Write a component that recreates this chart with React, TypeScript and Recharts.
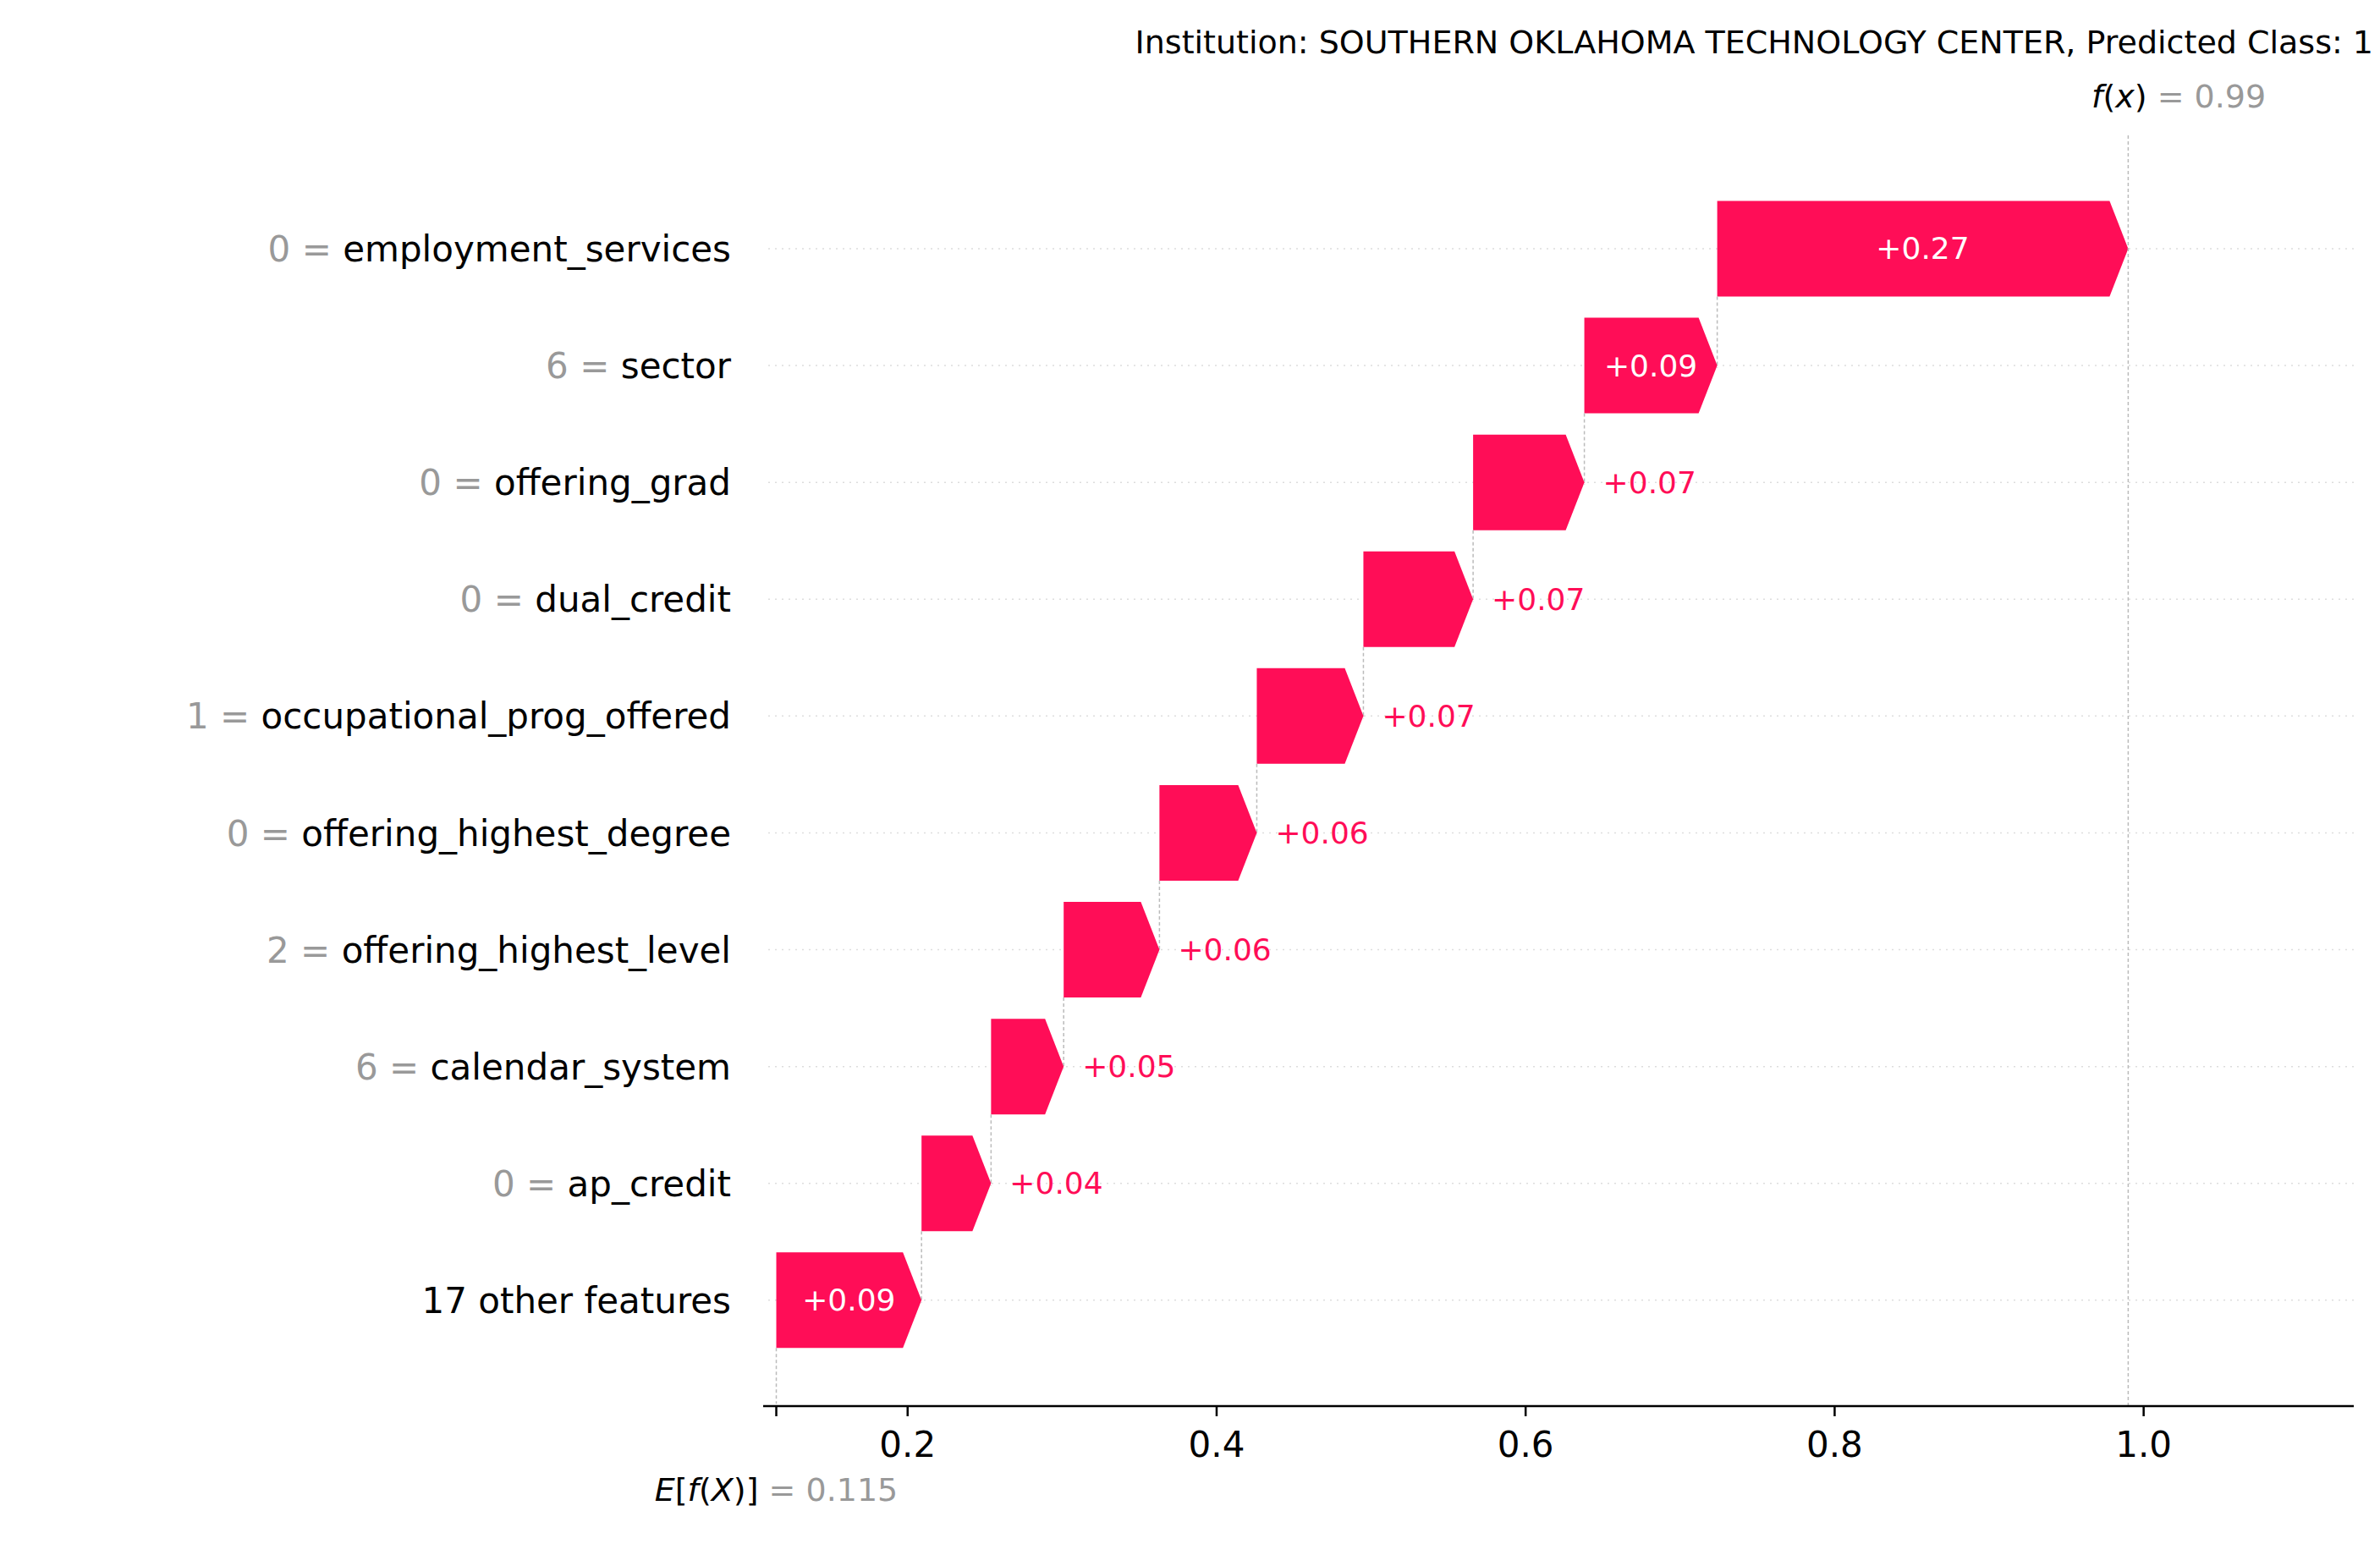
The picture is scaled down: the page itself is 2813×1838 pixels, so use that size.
import React from 'react';
import { ComposedChart, Bar, XAxis, YAxis, ReferenceLine } from 'recharts';

const features = ['employment_services', 'sector', 'offering_grad', 'dual_credit', 'occupational_prog_offered', 'offering_highest_degree', 'offering_highest_level', 'calendar_system', 'ap_credit', '17 other features'];
const featureValues = ['0', '6', '0', '0', '1', '0', '2', '6', '0', ''];
const shapValues = [0.266, 0.086, 0.072, 0.071, 0.069, 0.063, 0.062, 0.047, 0.045, 0.094];
const labels = ['+0.27', '+0.09', '+0.07', '+0.07', '+0.07', '+0.06', '+0.06', '+0.05', '+0.04', '+0.09'];
const baseValue = 0.115;
const fx = 0.99;
const xTicks = [0.115, 0.2, 0.4, 0.6, 0.8, 1.0];

const RED = '#ff0d57';
const FONT = 'DejaVu Sans, sans-serif';

// cumulative starts, bottom row (other features) first from base value
const starts: number[] = new Array(features.length);
let acc = baseValue;
for (let i = features.length - 1; i >= 0; i--) {
  starts[i] = acc;
  acc += shapValues[i];
}
const data = features.map((f, i) => ({ name: f, base: starts[i], value: shapValues[i], label: labels[i], idx: i }));

const BAND = 141;
const PLOT_L = 902;
const PLOT_R = 2782;

const ArrowBar = (props: any) => {
  const { x, y, width, height, payload } = props;
  const h = height;
  const head = Math.min(22, width);
  const pts = `${x},${y} ${x + width - head},${y} ${x + width},${y + h / 2} ${x + width - head},${y + h} ${x},${y + h}`;
  const inside = width > 140 || payload.idx === 1 || payload.idx === 9;
  const last = payload.idx === features.length - 1;
  const lineEnd = last ? y + h + 66 : y + h + (BAND - h) + h / 2;
  return (
    <g>
      <line x1={PLOT_L - 10} x2={PLOT_R} y1={y + h / 2} y2={y + h / 2} stroke="#ddd" strokeWidth={1.5} strokeDasharray="2 6" />
      <polygon points={pts} fill={RED} />
      <line x1={x} x2={x} y1={y + h} y2={lineEnd} stroke="#bbb" strokeWidth={1.5} strokeDasharray="4 3" />
      {inside ? (
        <text x={x + width / 2} y={y + h / 2} textAnchor="middle" dominantBaseline="central" fill="#fff" fontSize={36} fontFamily={FONT}>{payload.label}</text>
      ) : (
        <text x={x + width + 22} y={y + h / 2} textAnchor="start" dominantBaseline="central" fill={RED} fontSize={36} fontFamily={FONT}>{payload.label}</text>
      )}
    </g>
  );
};

const YTick = (props: any) => {
  const { x, y, payload } = props;
  const i = features.indexOf(payload.value);
  const v = featureValues[i];
  return (
    <text x={x} y={y} textAnchor="end" dominantBaseline="central" fontSize={42} fontFamily={FONT}>
      {v !== '' && <tspan fill="#999">{v} = </tspan>}
      <tspan fill="#000">{payload.value}</tspan>
    </text>
  );
};

const XTick = (props: any) => {
  const { x, y, payload } = props;
  if (Math.abs(payload.value - baseValue) < 1e-6) {
    return (
      <text x={x} y={y + 98} textAnchor="middle" fontSize={38} fontFamily={FONT}>
        <tspan fill="#000"><tspan fontStyle="italic">E</tspan>[<tspan fontStyle="italic">f</tspan>(<tspan fontStyle="italic">X</tspan>)]</tspan>
        <tspan fill="#999"> = 0.115</tspan>
      </text>
    );
  }
  return (
    <text x={x} y={y + 46} textAnchor="middle" fontSize={42} fontFamily={FONT} fill="#000">{payload.value.toFixed(1)}</text>
  );
};

export default function App() {
  return (
    <div style={{ position: 'absolute', left: 0, top: 0, width: 2813, height: 1838, background: '#fff' }}>
      <div style={{ position: 'absolute', right: 8, top: 28, fontFamily: FONT, fontSize: 38, color: '#000', whiteSpace: 'nowrap' }}>
        Institution: SOUTHERN OKLAHOMA TECHNOLOGY CENTER, Predicted Class: 1
      </div>
      <div style={{ position: 'absolute', left: 2472, top: 92, fontFamily: FONT, fontSize: 38, whiteSpace: 'nowrap' }}>
        <span style={{ fontStyle: 'italic' }}>f</span>(<span style={{ fontStyle: 'italic' }}>x</span>)<span style={{ color: '#999' }}> = 0.99</span>
      </div>
      <ComposedChart width={2813} height={1838} data={data} layout="vertical" barCategoryGap="9%"
        margin={{ top: 160, right: 31, bottom: 146, left: 0 }}>
        <XAxis type="number" domain={[0.1065, 1.136]} allowDataOverflow ticks={xTicks} tick={<XTick />}
          axisLine={{ stroke: '#000', strokeWidth: 2.5 }} tickLine={{ stroke: '#000', strokeWidth: 2.5 }} tickSize={12} />
        <YAxis type="category" dataKey="name" tick={<YTick />} axisLine={false} tickLine={false} width={PLOT_L}
          padding={{ top: 65, bottom: 56 }} tickMargin={32} />
        <ReferenceLine x={fx} stroke="#bbb" strokeWidth={1.5} strokeDasharray="4 3" />
        <Bar dataKey="base" stackId="a" fill="transparent" isAnimationActive={false} />
        <Bar dataKey="value" stackId="a" shape={<ArrowBar />} isAnimationActive={false} />
      </ComposedChart>
    </div>
  );
}
